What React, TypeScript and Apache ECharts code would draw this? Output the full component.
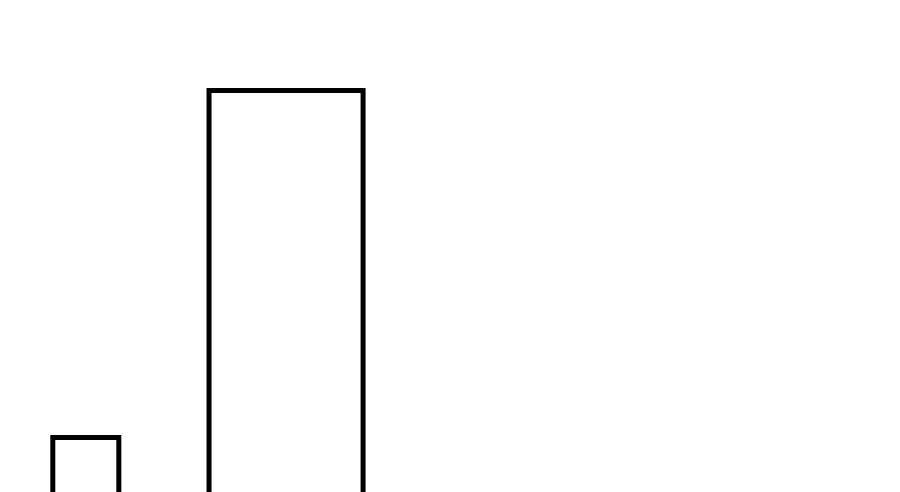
import React, { useEffect, useRef } from 'react';
import * as echarts from 'echarts';

// bin edges and heights of the two bars
const binStarts = [2.4, 9.5];
const binEnds = [5.4, 16.5];
const counts = [2, 9];

const App = () => {
  const chartRef = useRef<HTMLDivElement>(null);

  useEffect(() => {
    document.body.style.margin = '0';
    if (!chartRef.current) return;
    const chart = echarts.init(chartRef.current, null, { renderer: 'svg' });

    const data = counts.map((c, i) => [binStarts[i], binEnds[i], c]);

    chart.setOption({
      animation: false,
      backgroundColor: '#ffffff',
      grid: { left: 0, right: 0, top: 40.8, bottom: 0 },
      xAxis: { type: 'value', min: 0, max: 40.9, show: false },
      // the view starts above zero, so the bars run off the bottom edge
      yAxis: { type: 'value', min: 0.903, max: 10, show: false },
      series: [
        {
          type: 'custom',
          clip: false,
          data,
          encode: { x: [0, 1], y: 2 },
          renderItem: (_params: any, api: any) => {
            const p0 = api.coord([api.value(0), 0]);
            const p1 = api.coord([api.value(1), api.value(2)]);
            return {
              type: 'rect',
              shape: {
                x: p0[0],
                y: p1[1],
                width: p1[0] - p0[0],
                height: p0[1] - p1[1],
              },
              style: { fill: '#ffffff', stroke: '#000000', lineWidth: 5 },
            };
          },
        },
      ],
    });

    return () => chart.dispose();
  }, []);

  return <div ref={chartRef} style={{ width: 900, height: 492 }} />;
};

export default App;
